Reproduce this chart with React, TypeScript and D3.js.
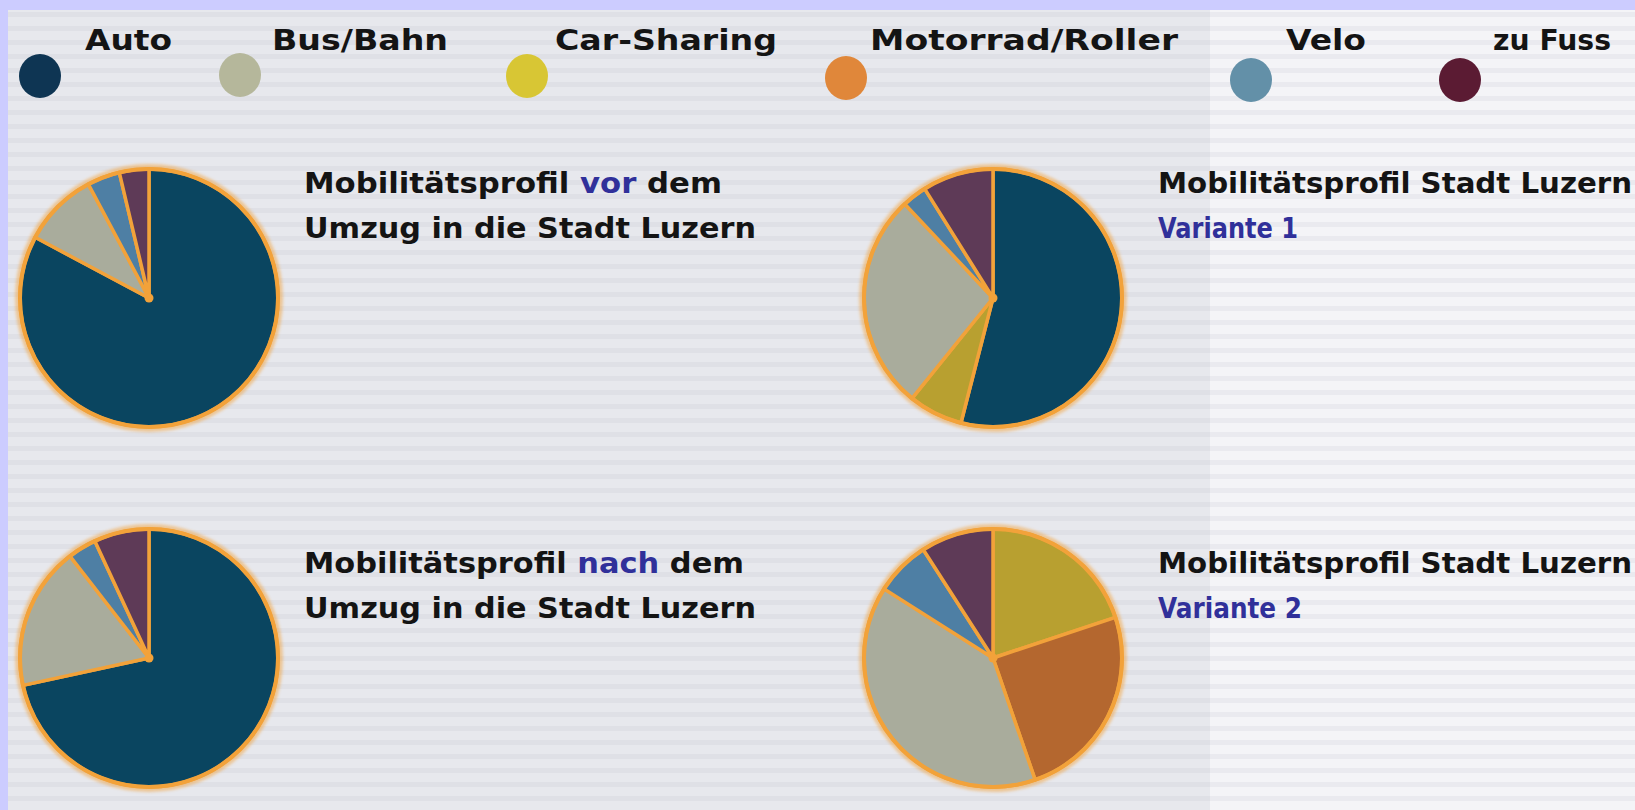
import React from 'react';
import * as d3 from 'd3';

// ---- data ----
const categories = ['Auto', 'Bus/Bahn', 'Car-Sharing', 'Motorrad/Roller', 'Velo', 'zu Fuss'];
const legendColors = ['#0e3553', '#b5b79b', '#d8c634', '#e0873a', '#6390a8', '#5b1b33'];
const pieColors = ['#0a4560', '#a9ac9c', '#b8a030', '#b4672f', '#4e7fa4', '#5e3a57'];
// drawing order of slices clockwise from 12 o'clock
const sliceOrder = ['Auto', 'Car-Sharing', 'Motorrad/Roller', 'Bus/Bahn', 'Velo', 'zu Fuss'];

// shares in % (same order as categories)
const vorValues = [82.8, 9.4, 0, 0, 4.1, 3.7];
const nachValues = [71.6, 17.9, 0, 0, 3.6, 6.9];
const variante1Values = [54.0, 27.2, 6.8, 0, 3.1, 8.9];
const variante2Values = [0, 39.3, 19.9, 24.8, 6.9, 9.1];

const titleVor = [[['Mobilitätsprofil ', false], ['vor', true], [' dem', false]], [['Umzug in die Stadt Luzern', false]]];
const titleNach = [[['Mobilitätsprofil ', false], ['nach', true], [' dem', false]], [['Umzug in die Stadt Luzern', false]]];
const titleV1 = [[['Mobilitätsprofil Stadt Luzern', false]], [['Variante 1', true]]];
const titleV2 = [[['Mobilitätsprofil Stadt Luzern', false]], [['Variante 2', true]]];

const W = 1635;
const H = 810;
const FONT = '"DejaVu Sans", Lato, sans-serif';
const STROKE = '#f2a23a';
const INK = '#141414';
const BLUE = '#30309a';

type Seg = [string, boolean];

function Pie({ cx, cy, r, values }: { cx: number; cy: number; r: number; values: number[] }) {
  const color = d3.scaleOrdinal<string, string>().domain(categories).range(pieColors);
  const data = sliceOrder.map((c) => ({ cat: c, v: values[categories.indexOf(c)] })).filter((d) => d.v > 0);
  const arcs = d3.pie<{ cat: string; v: number }>().sort(null).value((d) => d.v)(data);
  const arc = d3.arc<d3.PieArcDatum<{ cat: string; v: number }>>().innerRadius(0).outerRadius(r);
  return (
    <g transform={`translate(${cx},${cy})`}>
      <circle r={r + 1.5} fill="none" stroke={STROKE} strokeWidth={7} opacity={0.5} filter="url(#glow)" />
      {arcs.map((a) => (
        <path key={a.data.cat} d={arc(a) || ''} fill={color(a.data.cat)} stroke={STROKE} strokeWidth={3.5} strokeLinejoin="round" />
      ))}
      <circle r={r} fill="none" stroke={STROKE} strokeWidth={4} />
      <circle r={4.5} fill={STROKE} />
    </g>
  );
}

function Title({ x, y, lines, lh, widths }: { x: number; y: number; lines: Seg[][]; lh: number; widths: number[] }) {
  return (
    <g>
      {lines.map((line, i) => (
        <text key={i} x={x} y={y + i * lh} fontFamily={FONT} fontWeight={700} fontSize={29} fill={INK}
          textLength={widths[i]} lengthAdjust="spacingAndGlyphs">
          {line.map((s, j) => (
            <tspan key={j} fill={s[1] ? BLUE : INK}>{s[0]}</tspan>
          ))}
        </text>
      ))}
    </g>
  );
}

export default function App() {
  const stripes = d3.range(12, H, 14);
  const legendPos = [
    { cx: 40, cy: 76, tx: 85, w: 87 },
    { cx: 240, cy: 75, tx: 272, w: 176 },
    { cx: 527, cy: 76, tx: 555, w: 222 },
    { cx: 846, cy: 78, tx: 870, w: 308 },
    { cx: 1251, cy: 80, tx: 1286, w: 80 },
    { cx: 1460, cy: 80, tx: 1493, w: 118 },
  ];
  return (
    <svg width={W} height={H} style={{ position: 'absolute', left: 0, top: 0 }}>
      <defs>
        <filter id="glow" x="-20%" y="-20%" width="140%" height="140%">
          <feGaussianBlur stdDeviation="1.8" />
        </filter>
      </defs>
      <rect width={W} height={H} fill="#ccccff" />
      <rect x={8} y={10} width={1210 - 8} height={H - 10} fill="#e7e8ed" />
      <rect x={1210} y={10} width={W - 1210} height={H - 10} fill="#f4f4f7" />
      {stripes.map((y) => (
        <g key={y}>
          <rect x={8} y={y} width={1202} height={5} fill="#dcdde3" opacity={0.7} />
          <rect x={1210} y={y} width={W - 1210} height={5} fill="#e6e6eb" opacity={0.7} />
        </g>
      ))}
      {categories.map((c, i) => (
        <g key={c}>
          <ellipse cx={legendPos[i].cx} cy={legendPos[i].cy} rx={21} ry={22} fill={legendColors[i]} />
          <text x={legendPos[i].tx} y={50} fontFamily={FONT} fontWeight={700} fontSize={28} fill={INK}
            textLength={legendPos[i].w} lengthAdjust="spacingAndGlyphs">{c}</text>
        </g>
      ))}
      <Pie cx={149} cy={298} r={129} values={vorValues} />
      <Pie cx={993} cy={298} r={129} values={variante1Values} />
      <Pie cx={149} cy={658} r={129} values={nachValues} />
      <Pie cx={993} cy={658} r={129} values={variante2Values} />
      <Title x={304} y={193} lh={45} widths={[418, 452]} lines={titleVor as Seg[][]} />
      <Title x={1158} y={193} lh={45} widths={[474, 140]} lines={titleV1 as Seg[][]} />
      <Title x={304} y={573} lh={45} widths={[440, 452]} lines={titleNach as Seg[][]} />
      <Title x={1158} y={573} lh={45} widths={[474, 144]} lines={titleV2 as Seg[][]} />
    </svg>
  );
}
